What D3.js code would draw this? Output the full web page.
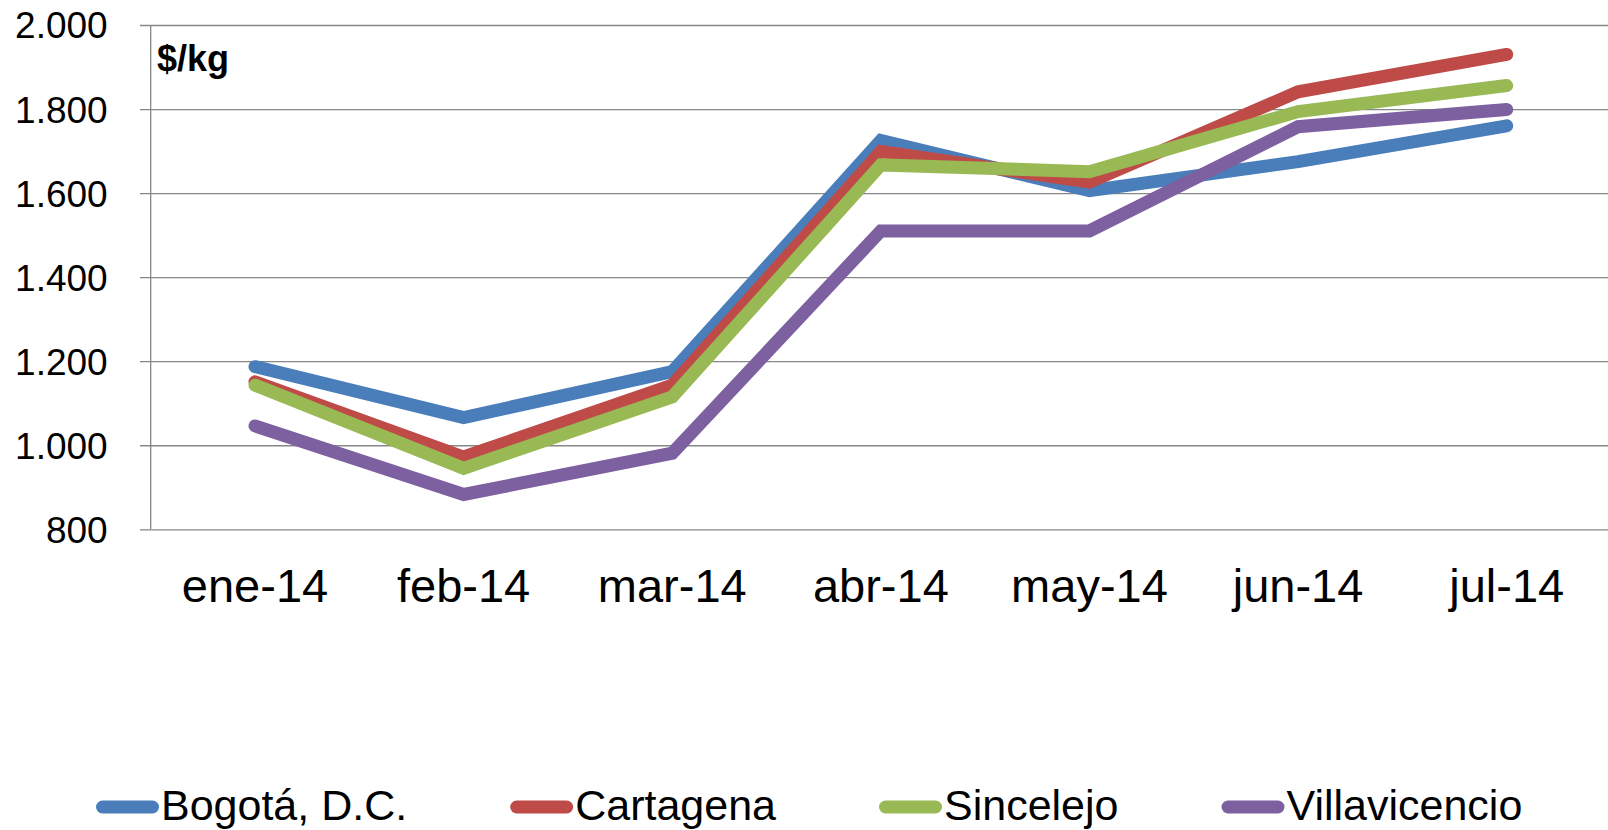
<!DOCTYPE html>
<html>
<head>
<meta charset="utf-8">
<script src="https://cdn.jsdelivr.net/npm/d3@7"></script>
<style>
  html, body { margin: 0; padding: 0; background: #fff; overflow: hidden; }
  svg { display: block; }
  text { font-family: "Liberation Sans", Arial, sans-serif; fill: #000; }
</style>
</head>
<body>
<svg id="chart" width="1608" height="830"></svg>
<script>
const categories = ["ene-14", "feb-14", "mar-14", "abr-14", "may-14", "jun-14", "jul-14"];
const seriesNames = ["Bogotá, D.C.", "Cartagena", "Sincelejo", "Villavicencio"];
const bogota       = [1187, 1066, 1175, 1725, 1606, 1675, 1760];
const cartagena    = [1151,  972, 1143, 1699, 1626, 1841, 1930];
const sincelejo    = [1143,  945, 1115, 1667, 1651, 1794, 1856];
const villavicencio= [1046,  883,  981, 1510, 1510, 1758, 1799];
const yTicks = [800, 1000, 1200, 1400, 1600, 1800, 2000];
const yTickLabels = ["800", "1.000", "1.200", "1.400", "1.600", "1.800", "2.000"];
const colors = ["#4a7ebb", "#be4b48", "#98b954", "#7d60a0"];
const unitLabel = "$/kg";

const seriesValues = [bogota, cartagena, sincelejo, villavicencio];

(function () {
const svg = d3.select("#chart");
const mLeft = 150.7, mRight = 1611, mTop = 25, mBottom = 529.3;

const x = d3.scaleBand().domain(categories).range([mLeft, mRight]).padding(0);
const y = d3.scaleLinear().domain([800, 2000]).range([mBottom, mTop]);

// gridlines + y ticks
const yAxis = d3.axisLeft(y)
  .tickValues(yTicks)
  .tickSize(-(1608 - mLeft))
  .tickSizeOuter(0)
  .tickPadding(43)
  .tickFormat((d, i) => yTickLabels[i]);

const gy = svg.append("g").attr("transform", `translate(${mLeft},0)`).call(yAxis);
gy.select(".domain").remove();
gy.selectAll(".tick line").attr("stroke", "#878787").attr("stroke-width", 1.3).attr("x1", -10.7);
gy.selectAll(".tick text")
  .style("font-size", "37px")
  .style("font-family", "'Liberation Sans', Arial, sans-serif")
  .attr("fill", "#000")
  .attr("dy", "0.35em");

// vertical axis line
svg.append("line")
  .attr("x1", mLeft).attr("x2", mLeft)
  .attr("y1", y(2000)).attr("y2", y(800))
  .attr("stroke", "#878787").attr("stroke-width", 1.3);

// x axis labels
const xAxis = d3.axisBottom(x).tickSize(0).tickPadding(0);
const gx = svg.append("g").attr("transform", `translate(0,${mBottom})`).call(xAxis);
gx.select(".domain").remove();
gx.selectAll(".tick text")
  .style("font-size", "47px")
  .style("font-family", "'Liberation Sans', Arial, sans-serif")
  .attr("fill", "#000")
  .attr("y", 73)
  .attr("dy", 0);

// unit label
svg.append("text")
  .attr("x", 157).attr("y", 71)
  .style("font-size", "36px").style("font-weight", "bold")
  .text(unitLabel);

// lines
const line = d3.line()
  .x((d, i) => x(categories[i]) + x.bandwidth() / 2)
  .y(d => y(d));

seriesValues.forEach((vals, k) => {
  svg.append("path")
    .datum(vals)
    .attr("d", line)
    .attr("fill", "none")
    .attr("stroke", colors[k])
    .attr("stroke-width", 13)
    .attr("stroke-linecap", "round")
    .attr("stroke-linejoin", "miter");
});

// legend
const lg = svg.append("g");
let lx = 96;
const ly = 807;
seriesNames.forEach((name, k) => {
  lg.append("line")
    .attr("x1", lx + 6.5).attr("x2", lx + 63 - 6.5)
    .attr("y1", ly).attr("y2", ly)
    .attr("stroke", colors[k]).attr("stroke-width", 13)
    .attr("stroke-linecap", "round");
  const t = lg.append("text")
    .attr("x", lx + 65).attr("y", 820)
    .style("font-size", "43px")
    .text(name);
  const w = t.node().getComputedTextLength();
  lx = lx + 65 + w + 103;
});
})();
</script>
</body>
</html>
